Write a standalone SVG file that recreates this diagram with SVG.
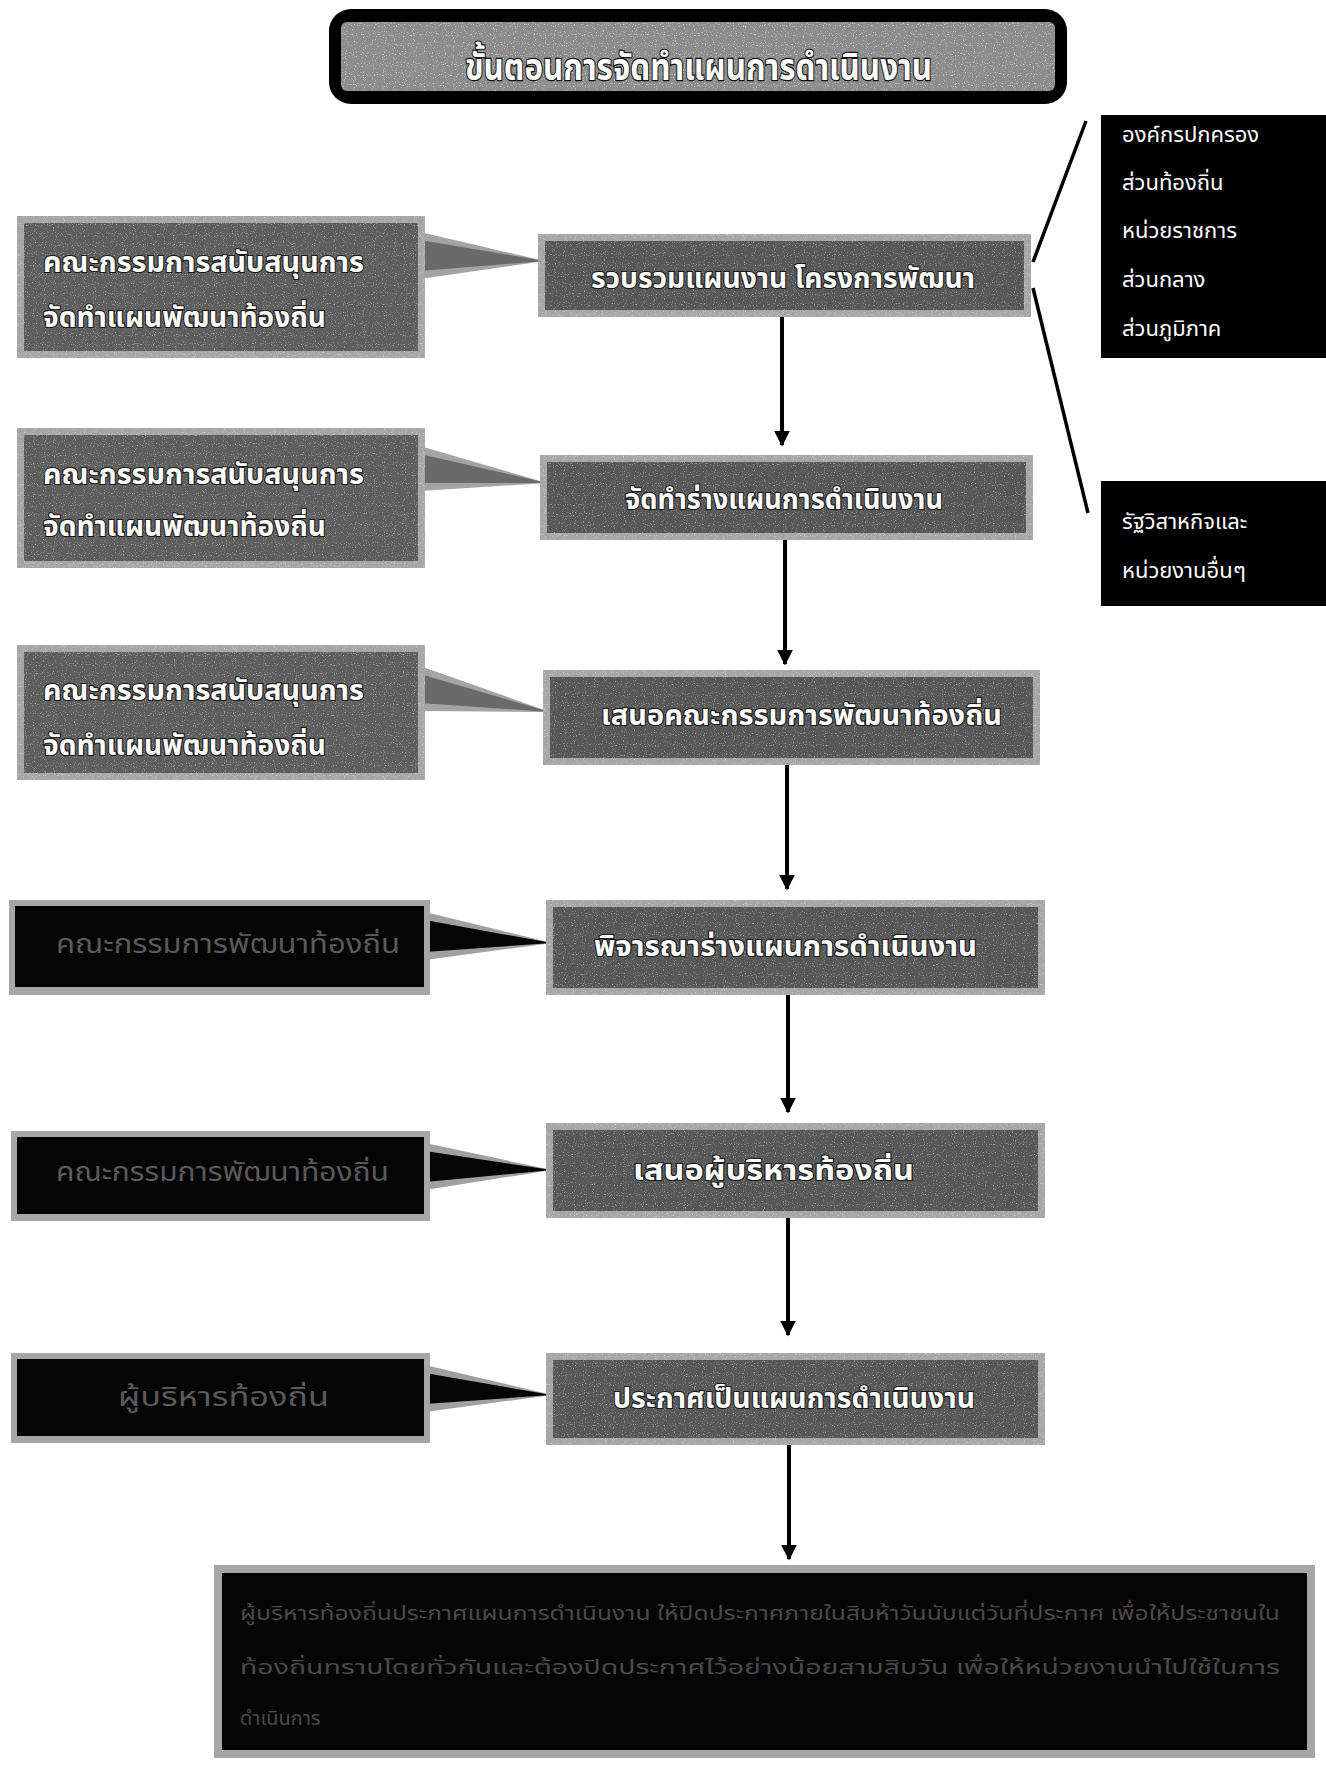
<svg xmlns="http://www.w3.org/2000/svg" width="1326" height="1765" viewBox="0 0 1326 1765">
<style>
.th{font-family:"Noto Sans Thai","Tahoma","Noto Sans","DejaVu Sans",sans-serif}
.ct{font-size:28px;fill:#ffffff;stroke:#1a1a1a;stroke-width:2.2px;paint-order:stroke;font-weight:bold;text-anchor:start}
.lt{font-size:28px;fill:#ffffff;stroke:#1a1a1a;stroke-width:2.2px;paint-order:stroke;font-weight:bold}
.dt{font-size:26px;fill:#5a5a5a}
.rt{font-size:22px;fill:#ffffff}
.bt{font-size:20px;fill:#4a4a4a}
.frame{fill:#a6a6a6}
.inner{fill:#575757}
.linner{fill:#5e5e5e}
.blk{fill:#050505}
.conn{stroke:#000;stroke-width:3.5;fill:none}
.arrow{stroke:#000;stroke-width:4;fill:none;marker-end:url(#ah)}
</style>
<defs>
<marker id="ah" viewBox="0 0 10 10" refX="9" refY="5" markerWidth="4" markerHeight="4.5" orient="auto" markerUnits="strokeWidth">
<path d="M0,0 L10,5 L0,10 z" fill="#000"/>
</marker>
<filter id="speck" x="0" y="0" width="1" height="1">
<feTurbulence type="fractalNoise" baseFrequency="0.9" numOctaves="1" seed="5" result="n"/>
<feColorMatrix in="n" type="matrix" values="0 0 0 0 1  0 0 0 0 1  0 0 0 0 1  5 0 0 0 -2.9" result="w"/>
<feComposite in="w" in2="SourceAlpha" operator="in"/>
</filter>
</defs>
<rect width="1326" height="1765" fill="#ffffff"/>

<g id="title">
<rect x="329" y="9" width="738" height="95" rx="22" fill="#000"/>
<rect x="341" y="22" width="714" height="69" rx="6" fill="#8c8c8c"/>
<rect x="341" y="22" width="714" height="69" rx="6" fill="#fff" filter="url(#speck)" opacity="0.6"/>
<text class="th" x="465" y="80" font-size="38" font-weight="bold" fill="#fff" stroke="#111" stroke-width="2.4" paint-order="stroke" textLength="467" lengthAdjust="spacingAndGlyphs">ขั้นตอนการจัดทำแผนการดำเนินงาน</text>
</g>

<g id="connectors">
<line class="conn" x1="1033" y1="262" x2="1086" y2="121"/>
<line class="conn" x1="1033" y1="288" x2="1088" y2="513"/>
<line class="arrow" x1="782" y1="317" x2="782" y2="445"/>
<line class="arrow" x1="785" y1="540" x2="785" y2="664"/>
<line class="arrow" x1="787" y1="765" x2="787" y2="889"/>
<line class="arrow" x1="788" y1="995" x2="788" y2="1112"/>
<line class="arrow" x1="788" y1="1218" x2="788" y2="1335"/>
<line class="arrow" x1="789" y1="1445" x2="789" y2="1559"/>
</g>

<g id="callouts">
<polygon points="420,232 545,261 420,279" fill="#a4a4a4"/>
<polygon points="420,240 545,261 420,271" fill="#6a6a6a"/>
<polygon points="420,446 547,483 420,491" fill="#a4a4a4"/>
<polygon points="420,454 547,483 420,483" fill="#6a6a6a"/>
<polygon points="420,666 550,712 420,711" fill="#a4a4a4"/>
<polygon points="420,674 550,712 420,703" fill="#6a6a6a"/>
<polygon points="425,912 552,943 425,960" fill="#a0a0a0"/>
<polygon points="425,920 552,943 425,952" fill="#050505"/>
<polygon points="425,1143 552,1170 425,1190" fill="#a0a0a0"/>
<polygon points="425,1151 552,1170 425,1182" fill="#050505"/>
<polygon points="425,1365 552,1395 425,1412" fill="#a0a0a0"/>
<polygon points="425,1373 552,1395 425,1404" fill="#050505"/>
</g>

<g id="step1">
<rect class="frame" x="538" y="234" width="493" height="83"/>
<rect class="inner" x="545" y="241" width="479" height="69"/>
<rect x="538" y="234" width="493" height="83" fill="#fff" filter="url(#speck)" opacity="0.45"/>
<text class="th ct" x="591" y="288" textLength="384" lengthAdjust="spacingAndGlyphs">รวบรวมแผนงาน โครงการพัฒนา</text>
</g>
<g id="step2">
<rect class="frame" x="540" y="455" width="493" height="85"/>
<rect class="inner" x="547" y="462" width="479" height="71"/>
<rect x="540" y="455" width="493" height="85" fill="#fff" filter="url(#speck)" opacity="0.45"/>
<text class="th ct" x="625" y="509" textLength="318" lengthAdjust="spacingAndGlyphs">จัดทำร่างแผนการดำเนินงาน</text>
</g>
<g id="step3">
<rect class="frame" x="543" y="670" width="497" height="95"/>
<rect class="inner" x="550" y="677" width="483" height="81"/>
<rect x="543" y="670" width="497" height="95" fill="#fff" filter="url(#speck)" opacity="0.45"/>
<text class="th ct" x="601" y="725" textLength="401" lengthAdjust="spacingAndGlyphs">เสนอคณะกรรมการพัฒนาท้องถิ่น</text>
</g>
<g id="step4">
<rect class="frame" x="546" y="900" width="499" height="95"/>
<rect class="inner" x="553" y="907" width="485" height="81"/>
<rect x="546" y="900" width="499" height="95" fill="#fff" filter="url(#speck)" opacity="0.45"/>
<text class="th ct" x="594" y="956" textLength="383" lengthAdjust="spacingAndGlyphs">พิจารณาร่างแผนการดำเนินงาน</text>
</g>
<g id="step5">
<rect class="frame" x="546" y="1123" width="499" height="95"/>
<rect class="inner" x="553" y="1130" width="485" height="81"/>
<rect x="546" y="1123" width="499" height="95" fill="#fff" filter="url(#speck)" opacity="0.45"/>
<text class="th ct" x="633" y="1180" textLength="281" lengthAdjust="spacingAndGlyphs">เสนอผู้บริหารท้องถิ่น</text>
</g>
<g id="step6">
<rect class="frame" x="546" y="1353" width="499" height="92"/>
<rect class="inner" x="553" y="1360" width="485" height="78"/>
<rect x="546" y="1353" width="499" height="92" fill="#fff" filter="url(#speck)" opacity="0.45"/>
<text class="th ct" x="613" y="1408" textLength="362" lengthAdjust="spacingAndGlyphs">ประกาศเป็นแผนการดำเนินงาน</text>
</g>

<g id="side1">
<rect class="frame" x="17" y="216" width="408" height="142"/>
<rect class="linner" x="24" y="223" width="394" height="128"/>
<rect x="17" y="216" width="408" height="142" fill="#fff" filter="url(#speck)" opacity="0.45"/>
<text class="th lt" x="43" y="272" textLength="321" lengthAdjust="spacingAndGlyphs">คณะกรรมการสนับสนุนการ</text>
<text class="th lt" x="43" y="327" textLength="283" lengthAdjust="spacingAndGlyphs">จัดทำแผนพัฒนาท้องถิ่น</text>
</g>
<g id="side2">
<rect class="frame" x="17" y="428" width="408" height="140"/>
<rect class="linner" x="24" y="435" width="394" height="126"/>
<rect x="17" y="428" width="408" height="140" fill="#fff" filter="url(#speck)" opacity="0.45"/>
<text class="th lt" x="43" y="484" textLength="321" lengthAdjust="spacingAndGlyphs">คณะกรรมการสนับสนุนการ</text>
<text class="th lt" x="43" y="536" textLength="283" lengthAdjust="spacingAndGlyphs">จัดทำแผนพัฒนาท้องถิ่น</text>
</g>
<g id="side3">
<rect class="frame" x="17" y="645" width="408" height="135"/>
<rect class="linner" x="24" y="652" width="394" height="121"/>
<rect x="17" y="645" width="408" height="135" fill="#fff" filter="url(#speck)" opacity="0.45"/>
<text class="th lt" x="43" y="700" textLength="321" lengthAdjust="spacingAndGlyphs">คณะกรรมการสนับสนุนการ</text>
<text class="th lt" x="43" y="755" textLength="283" lengthAdjust="spacingAndGlyphs">จัดทำแผนพัฒนาท้องถิ่น</text>
</g>
<g id="side4">
<rect class="frame" x="9" y="900" width="421" height="95"/>
<rect class="blk" x="15" y="906" width="409" height="81"/>
<text class="th dt" x="56" y="953" textLength="344" lengthAdjust="spacingAndGlyphs">คณะกรรมการพัฒนาท้องถิ่น</text>
</g>
<g id="side5">
<rect class="frame" x="11" y="1131" width="419" height="90"/>
<rect class="blk" x="17" y="1137" width="407" height="77"/>
<text class="th dt" x="56" y="1181" textLength="333" lengthAdjust="spacingAndGlyphs">คณะกรรมการพัฒนาท้องถิ่น</text>
</g>
<g id="side6">
<rect class="frame" x="11" y="1353" width="419" height="90"/>
<rect class="blk" x="17" y="1359" width="407" height="77"/>
<text class="th dt" x="118" y="1406" textLength="211" lengthAdjust="spacingAndGlyphs">ผู้บริหารท้องถิ่น</text>
</g>

<g id="agencies">
<rect x="1101" y="115" width="225" height="243" fill="#000"/>
<text class="th rt" x="1122" y="142">องค์กรปกครอง</text>
<text class="th rt" x="1122" y="190">ส่วนท้องถิ่น</text>
<text class="th rt" x="1122" y="238">หน่วยราชการ</text>
<text class="th rt" x="1122" y="287">ส่วนกลาง</text>
<text class="th rt" x="1122" y="336">ส่วนภูมิภาค</text>
</g>
<g id="stateenterprise">
<rect x="1101" y="481" width="225" height="125" fill="#000"/>
<text class="th rt" x="1122" y="529">รัฐวิสาหกิจและ</text>
<text class="th rt" x="1122" y="578">หน่วยงานอื่นๆ</text>
</g>

<g id="announce">
<rect class="frame" x="214" y="1565" width="1101" height="193"/>
<rect class="blk" x="222" y="1573" width="1085" height="177"/>
<text class="th bt" x="240" y="1620" textLength="1040" lengthAdjust="spacingAndGlyphs">ผู้บริหารท้องถิ่นประกาศแผนการดำเนินงาน ให้ปิดประกาศภายในสิบห้าวันนับแต่วันที่ประกาศ เพื่อให้ประชาชนใน</text>
<text class="th bt" x="240" y="1674" textLength="1040" lengthAdjust="spacingAndGlyphs">ท้องถิ่นทราบโดยทั่วกันและต้องปิดประกาศไว้อย่างน้อยสามสิบวัน เพื่อให้หน่วยงานนำไปใช้ในการ</text>
<text class="th bt" x="240" y="1725">ดำเนินการ</text>
</g>
</svg>
